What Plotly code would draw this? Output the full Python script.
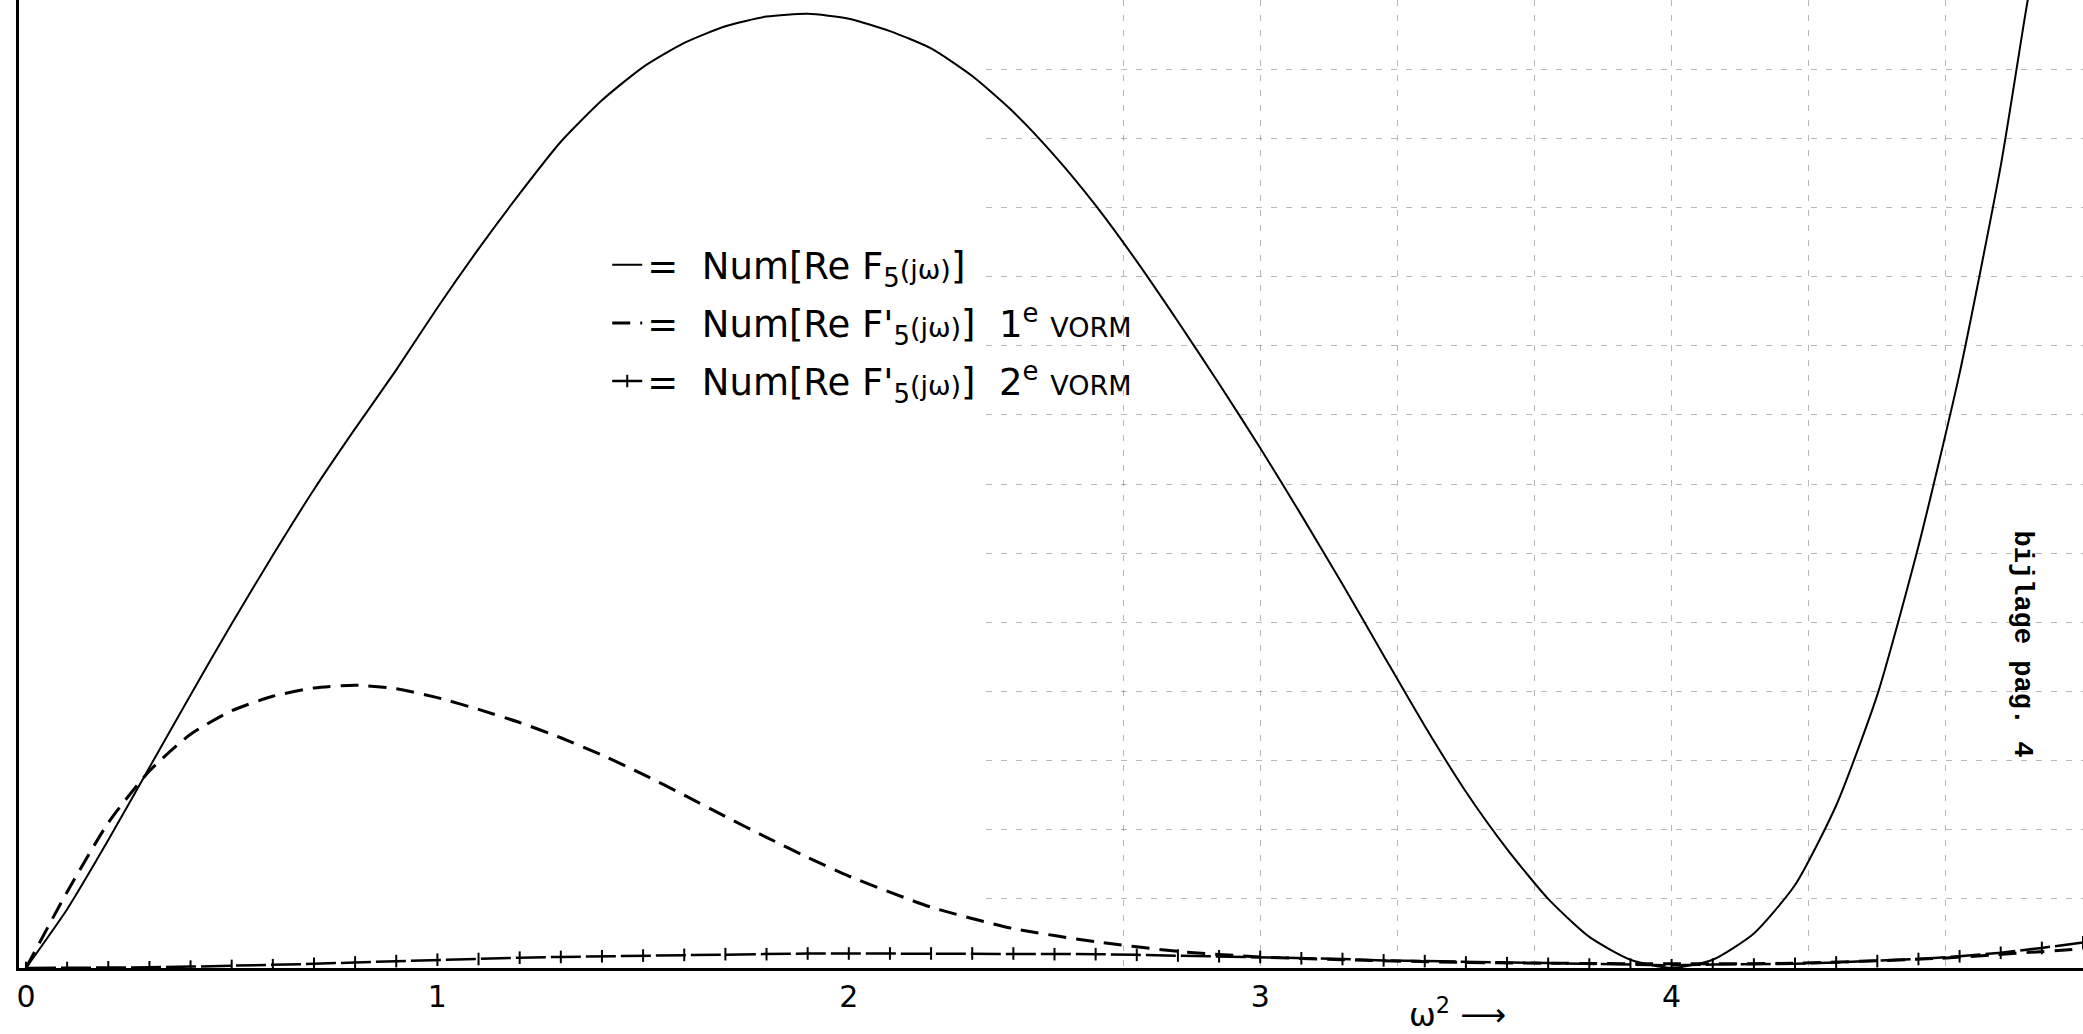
import plotly.graph_objects as go

# ---------------- data ----------------
solid_x = [0.0, 0.1, 0.2, 0.3, 0.4, 0.5, 0.6, 0.7, 0.8, 0.9, 1.0, 1.1, 1.2, 1.3, 1.4, 1.5,
           1.6, 1.7, 1.8, 1.9, 2.0, 2.1, 2.2, 2.3, 2.4, 2.5, 2.6, 2.7, 2.8, 2.9, 3.0, 3.1,
           3.2, 3.3, 3.4, 3.5, 3.6, 3.7, 3.8, 3.9, 4.0, 4.1, 4.2, 4.3, 4.4, 4.5, 4.6, 4.7,
           4.8, 4.86, 4.9]
solid_y = [0.0, 0.85, 1.85, 2.9, 3.95, 4.98, 5.97, 6.92, 7.8, 8.65, 9.55, 10.4, 11.2, 11.95,
           12.55, 13.03, 13.38, 13.62, 13.76, 13.80, 13.73, 13.55, 13.3, 12.9, 12.38, 11.75,
           11.03, 10.22, 9.35, 8.45, 7.52, 6.55, 5.55, 4.52, 3.5, 2.55, 1.72, 1.0, 0.45, 0.12,
           0.0, 0.12, 0.5, 1.2, 2.35, 3.95, 6.1, 8.6, 11.6, 13.8, 15.2]

dash_x = [0.0, 0.1, 0.2, 0.3, 0.4, 0.5, 0.6, 0.7, 0.8, 0.9, 1.0, 1.1, 1.2, 1.3, 1.4, 1.5,
          1.6, 1.7, 1.8, 1.9, 2.0, 2.2, 2.4, 2.6, 2.8, 3.0, 3.2, 3.5, 4.0, 4.3, 4.65, 5.0]
dash_y = [0.0, 1.1, 2.1, 2.85, 3.38, 3.72, 3.93, 4.05, 4.09, 4.04, 3.91, 3.74, 3.55, 3.33,
          3.08, 2.80, 2.50, 2.19, 1.89, 1.60, 1.33, 0.88, 0.57, 0.38, 0.24, 0.16, 0.12, 0.08,
          0.06, 0.07, 0.14, 0.28]

cross_x = [0.0, 0.1, 0.2, 0.3, 0.4, 0.5, 0.6, 0.7, 0.8, 0.9, 1.0, 1.1, 1.2, 1.3, 1.4, 1.5, 1.6,
           1.7, 1.8, 1.9, 2.0, 2.1, 2.2, 2.3, 2.4, 2.5, 2.6, 2.7, 2.8, 2.9, 3.0, 3.1, 3.2, 3.3,
           3.4, 3.5, 3.6, 3.7, 3.8, 3.9, 4.0, 4.1, 4.2, 4.3, 4.4, 4.5, 4.6, 4.7, 4.8, 4.9, 5.0]
cross_y = [0.00, 0.00, 0.01, 0.01, 0.02, 0.03, 0.04, 0.06, 0.08, 0.10, 0.12, 0.13, 0.15, 0.16,
           0.17, 0.18, 0.19, 0.20, 0.20, 0.21, 0.21, 0.21, 0.21, 0.21, 0.21, 0.20, 0.20, 0.19,
           0.18, 0.17, 0.16, 0.14, 0.13, 0.11, 0.10, 0.08, 0.07, 0.06, 0.05, 0.05, 0.04, 0.05,
           0.05, 0.06, 0.08, 0.10, 0.13, 0.17, 0.22, 0.29, 0.37]

tick_vals = [0, 1, 2, 3, 4, 5]
tick_text = ["0", "1", "2", "3", "4", "5"]

SM = "font-size:27px"
SP = "\u00a0\u00a0"
names = [
    f"={SP}Num[Re F<sub>5</sub><span style='{SM}'>(jω)</span>]",
    f"={SP}Num[Re F'<sub>5</sub><span style='{SM}'>(jω)</span>]{SP}1<sup>e</sup> <span style='{SM}'>VORM</span>",
    f"={SP}Num[Re F'<sub>5</sub><span style='{SM}'>(jω)</span>]{SP}2<sup>e</sup> <span style='{SM}'>VORM</span>",
]
x_label = "ω<sup>2</sup> ⟶"
side_text = "<b>bijlage pag. 4</b>"

X_RANGE = [-0.017, 5.0]
Y_RANGE = [0, 14]
GRID_START = 7 / 3

# ---------------- figure ----------------
fig = go.Figure()

fig.add_trace(go.Scatter(
    x=solid_x, y=solid_y, mode="lines", name=names[0], legendgroup="a",
    line=dict(color="black", width=2, shape="spline", smoothing=0.6),
))
fig.add_trace(go.Scatter(
    x=dash_x, y=dash_y, mode="lines", name=names[1], legendgroup="b",
    line=dict(color="black", width=3, dash="18px,10px", shape="spline", smoothing=0.6),
))
fig.add_trace(go.Scatter(
    x=cross_x, y=cross_y, mode="lines+markers", name=names[2], legendgroup="c",
    line=dict(color="black", width=2.5, dash="30px,5px"),
    marker=dict(symbol="line-ns", size=9, line=dict(color="black", width=2)),
))
# helper trace so the graph-paper grid axes are drawn
fig.add_trace(go.Scatter(x=[], y=[], xaxis="x2", yaxis="y2",
                         showlegend=False, hoverinfo="skip"))

grid_dom0 = (GRID_START - X_RANGE[0]) / (X_RANGE[1] - X_RANGE[0])
GRID_COLOR = "rgba(0,0,0,0.28)"

fig.update_layout(
    width=2083, height=1034,
    margin=dict(l=19, r=0, t=0, b=66),
    paper_bgcolor="white",
    plot_bgcolor="rgba(0,0,0,0)",
    font=dict(family="DejaVu Sans, Noto Sans, sans-serif", color="black"),
    xaxis=dict(range=X_RANGE, showgrid=False, zeroline=False, showline=True,
               linecolor="black", linewidth=3, ticks="", tickvals=tick_vals,
               ticktext=tick_text, tickfont=dict(size=30, color="black")),
    yaxis=dict(range=Y_RANGE, showgrid=False, zeroline=False, showline=True,
               linecolor="black", linewidth=3, showticklabels=False, ticks=""),
    xaxis2=dict(domain=[grid_dom0, 1], range=[GRID_START, X_RANGE[1]], anchor="y2",
                showgrid=True, gridcolor=GRID_COLOR, griddash="6px,9px", gridwidth=1,
                tick0=0, dtick=1 / 3, showticklabels=False, zeroline=False, showline=False,
                ticks=""),
    yaxis2=dict(domain=[0, 1], range=Y_RANGE, anchor="x2",
                showgrid=True, gridcolor=GRID_COLOR, griddash="6px,9px", gridwidth=1,
                dtick=1, showticklabels=False, zeroline=False, showline=False, ticks=""),
    showlegend=True,
    legend=dict(x=0.285, y=0.758, xanchor="left", yanchor="top",
                bgcolor="rgba(0,0,0,0)", font=dict(size=37, color="black"),
                tracegroupgap=7, traceorder="grouped"),
    annotations=[
        dict(text=x_label, x=3.48, xref="x", y=-0.047, yref="paper",
             showarrow=False, font=dict(size=32, color="black"),
             xanchor="center", yanchor="middle"),
        dict(text=side_text, x=0.9705, xref="paper", y=0.335, yref="paper",
             showarrow=False, textangle=90,
             font=dict(family="Liberation Mono, DejaVu Sans Mono, monospace", size=27,
                       color="black"),
             xanchor="center", yanchor="middle"),
    ],
)

fig.write_html("out.html")
